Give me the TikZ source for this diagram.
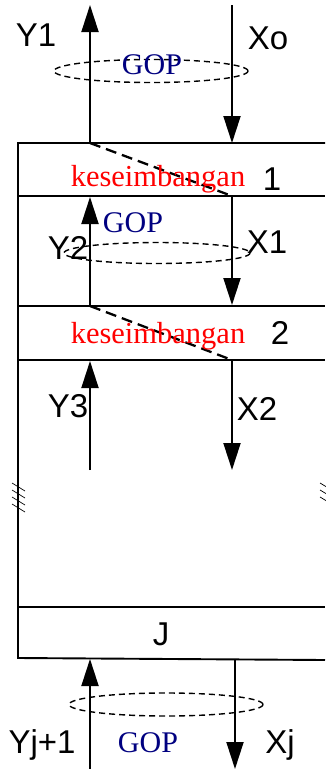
\documentclass[tikz,border=0pt]{standalone}
\usepackage{fontspec}
\setmainfont{Liberation Serif}
\setsansfont{Liberation Sans}
\usetikzlibrary{arrows.meta}
\definecolor{gopblue}{RGB}{0,0,128}
\begin{document}
\begin{tikzpicture}[x=1pt,y=-1pt,
  frame/.style={line width=1.9pt},
  flow/.style={line width=1.9pt,-{Triangle[length=27pt,width=17pt]}},
  tray/.style={line width=2.3pt,dash pattern=on 11pt off 6pt},
  gopring/.style={line width=1.4pt,dash pattern=on 6pt off 4pt},
  lab/.style={font=\sffamily\fontsize{33}{33}\selectfont,inner sep=0pt},
  red/.style={font=\fontsize{30.5}{30.5}\selectfont,text=red,inner sep=0pt,anchor=base},
  gop/.style={font=\fontsize{30}{30}\selectfont,text=gopblue,inner sep=0pt}]
\useasboundingbox (0,0) rectangle (325,769);
% frame
\coordinate (tl) at (18,143);
\coordinate (bl) at (18,658);
\draw[frame] (325,143) -- (tl) -- (bl) -- (325,660);
\draw[frame] (18,196) -- (325,196);
\draw[frame] (18,306) -- (325,306);
\draw[frame] (18,360) -- (325,360);
\draw[frame] (18,607) -- (325,607);
% break marks
\draw[line width=2.6pt] (18,470) -- (18,525);
\foreach \y in {483,490,497,504}{\draw[line width=0.7pt] (12,\y) -- (25,\y+8);}
\foreach \y in {483,490,497}{\draw[line width=0.7pt] (320,\y) -- (330,\y+6);}
% coordinates
\coordinate (y1t) at (90,5);   \coordinate (y1b) at (90,143);
\coordinate (x0t) at (232,5);  \coordinate (x0b) at (232,143);
\coordinate (d1a) at (90,143); \coordinate (d1b) at (232,196);
\coordinate (y2t) at (90,197); \coordinate (y2b) at (90,306);
\coordinate (x1t) at (232,196);\coordinate (x1b) at (232,305);
\coordinate (d2a) at (90,306); \coordinate (d2b) at (232,360);
\coordinate (y3t) at (90,361); \coordinate (y3b) at (90,470);
\coordinate (x2t) at (232,360);\coordinate (x2b) at (232,470);
\coordinate (yjt) at (90,659); \coordinate (yjb) at (90,769);
\coordinate (xjt) at (235,660);\coordinate (xjb) at (235,769);
% flows
\draw[flow] (y1b) -- (y1t);
\draw[flow] (x0t) -- (x0b);
\draw[tray] (d1a) -- (d1b);
\draw[flow] (y2b) -- (y2t);
\draw[flow] (x1t) -- (x1b);
\draw[tray] (d2a) -- (d2b);
\draw[flow] (y3b) -- (y3t);
\draw[flow] (x2t) -- (x2b);
\draw[flow] (yjb) -- (yjt);
\draw[flow] (xjt) -- (xjb);
% GOP rings
\draw[gopring] (151,71) ellipse [x radius=97, y radius=11.5];
\draw[gopring] (157,253) ellipse [x radius=93, y radius=10.5];
\draw[gopring] (166,704.5) ellipse [x radius=97, y radius=11.5];
% labels
\node[lab] (ly1) at (36,35) {Y1};
\node[lab] (lx0) at (268,38) {Xo};
\node[gop] (g1) at (152,65) {GOP};
\node[red] (k1) at (158,186) {keseimbangan};
\node[lab] (n1) at (272,179) {1};
\node[gop] (g2) at (133,223) {GOP};
\node[lab] (ly2) at (68,248) {Y2};
\node[lab] (lx1) at (267,242) {X1};
\node[red] (k2) at (158,343) {keseimbangan};
\node[lab] (n2) at (280,333) {2};
\node[lab] (ly3) at (68,406) {Y3};
\node[lab] (lx2) at (257,409) {X2};
\node[lab] (nj) at (161,634) {J};
\node[lab] (lyj) at (42,745) {Yj+1};
\node[lab] (lxj) at (280,745) {Xj};
\node[gop] (g3) at (148,743) {GOP};
\end{tikzpicture}
\end{document}
